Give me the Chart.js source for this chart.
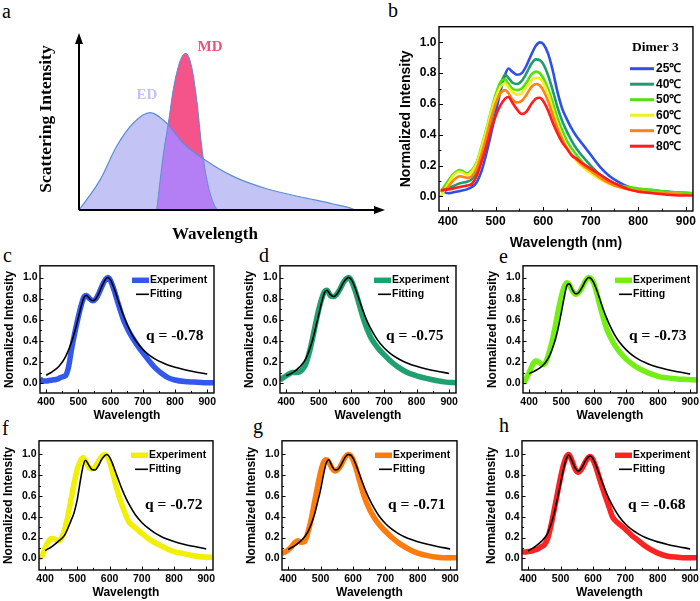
<!DOCTYPE html>
<html>
<head>
<meta charset="utf-8">
<script src="https://cdn.jsdelivr.net/npm/chart.js@4.4.0/dist/chart.umd.min.js"></script>
<style>
  body { margin: 0; width: 700px; height: 601px; position: relative; overflow: hidden; background: #fff; }
  canvas { position: absolute; }
  .tag { position: absolute; font-family: "Liberation Serif", "Times New Roman", serif; font-size: 20px; line-height: 1; color: #000; }
</style>
</head>
<body>
<div class="tag" style="left:2px;top:1px">a</div>
<div class="tag" style="left:388px;top:0px">b</div>
<div class="tag" style="left:3px;top:245px">c</div>
<div class="tag" style="left:259px;top:245px">d</div>
<div class="tag" style="left:499px;top:246px">e</div>
<div class="tag" style="left:2px;top:418px">f</div>
<div class="tag" style="left:253px;top:416px">g</div>
<div class="tag" style="left:499px;top:415px">h</div>
<script>
const SANS = '"Liberation Sans", Arial, sans-serif';
const SERIF = '"Liberation Serif", "Times New Roman", serif';

// ---- panel a : schematic ED / MD lines (arbitrary units)
const edX = [0, 3, 6.9, 12.3, 17.7, 23.2, 28.7, 34.1, 40.6, 50.4, 61.3, 72.2, 83.1, 89.6, 90.2];
const edY = [0, 0.07, 0.17, 0.36, 0.49, 0.55, 0.49, 0.377, 0.29, 0.19, 0.12, 0.075, 0.034, 0.005, 0];
const mdX = [25.4, 27.6, 29.2, 30.8, 33, 34.9, 36.8, 38.5, 40.1, 41.8, 43.9, 45.2];
const mdY = [0, 0.32, 0.49, 0.68, 0.84, 0.885, 0.81, 0.62, 0.36, 0.17, 0.04, 0];

// ---- panel b : Dimer 3 at several temperatures
const bWave = [385, 400, 410, 425, 440, 450, 460, 470, 480, 490, 500, 510, 520, 527, 535, 545, 555, 565, 575, 585, 593, 600, 610, 620, 630, 640, 650, 660, 670, 680, 700, 720, 740, 760, 780, 800, 830, 860, 890, 915];
const b25 = [0.04, 0.02, 0.025, 0.035, 0.045, 0.06, 0.09, 0.16, 0.27, 0.40, 0.54, 0.68, 0.79, 0.83, 0.81, 0.79, 0.80, 0.85, 0.92, 0.98, 1.0, 0.99, 0.93, 0.82, 0.68, 0.57, 0.50, 0.44, 0.39, 0.35, 0.27, 0.19, 0.13, 0.09, 0.06, 0.045, 0.035, 0.03, 0.02, 0.015];
const b40 = [0.04, 0.05, 0.065, 0.085, 0.095, 0.11, 0.16, 0.25, 0.36, 0.48, 0.60, 0.72, 0.79, 0.77, 0.74, 0.73, 0.75, 0.80, 0.86, 0.89, 0.885, 0.86, 0.79, 0.69, 0.58, 0.49, 0.42, 0.36, 0.31, 0.27, 0.20, 0.14, 0.10, 0.07, 0.055, 0.045, 0.04, 0.03, 0.025, 0.02];
const b50 = [0.03, 0.10, 0.14, 0.17, 0.15, 0.17, 0.22, 0.32, 0.43, 0.55, 0.66, 0.74, 0.76, 0.73, 0.70, 0.69, 0.70, 0.74, 0.79, 0.81, 0.80, 0.77, 0.70, 0.61, 0.51, 0.43, 0.36, 0.31, 0.27, 0.23, 0.17, 0.12, 0.09, 0.07, 0.06, 0.05, 0.04, 0.03, 0.025, 0.02];
const b60 = [0.0, 0.08, 0.13, 0.16, 0.14, 0.16, 0.21, 0.31, 0.42, 0.54, 0.64, 0.71, 0.735, 0.71, 0.68, 0.66, 0.67, 0.71, 0.75, 0.77, 0.765, 0.74, 0.67, 0.57, 0.47, 0.39, 0.32, 0.27, 0.23, 0.20, 0.15, 0.11, 0.08, 0.06, 0.045, 0.035, 0.025, 0.02, 0.015, 0.01];
const b70 = [0.03, 0.06, 0.10, 0.13, 0.12, 0.13, 0.18, 0.27, 0.38, 0.50, 0.60, 0.67, 0.69, 0.67, 0.63, 0.61, 0.62, 0.66, 0.71, 0.73, 0.72, 0.69, 0.62, 0.53, 0.44, 0.37, 0.31, 0.27, 0.24, 0.21, 0.165, 0.12, 0.085, 0.06, 0.045, 0.035, 0.025, 0.02, 0.015, 0.01];
const b80 = [0.04, 0.045, 0.05, 0.06, 0.07, 0.08, 0.13, 0.22, 0.32, 0.43, 0.52, 0.59, 0.635, 0.645, 0.61, 0.565, 0.535, 0.55, 0.60, 0.635, 0.64, 0.62, 0.56, 0.48, 0.41, 0.35, 0.31, 0.265, 0.245, 0.22, 0.18, 0.14, 0.10, 0.07, 0.045, 0.03, 0.02, 0.01, 0.005, 0.005];
const bLabels = ['25℃', '40℃', '50℃', '60℃', '70℃', '80℃'];
const bSeries = [b25, b40, b50, b60, b70, b80];
const bColors = ['#2f4fe6', '#1e9c6c', '#52e012', '#f2f01c', '#ff8214', '#ff1c1c'];

// ---- panels c-h : experiment vs Fano fitting
const expWave = [381, 390, 400, 410, 420, 430, 440, 450, 460, 470, 480, 490, 500, 510, 518, 525, 535, 545, 555, 565, 575, 585, 592, 600, 610, 620, 630, 640, 650, 660, 670, 685, 700, 720, 740, 760, 780, 800, 830, 860, 890, 920];
const fitWave = [400, 420, 440, 460, 480, 490, 500, 510, 518, 525, 535, 545, 555, 565, 575, 585, 592, 600, 610, 620, 630, 640, 650, 665, 680, 700, 720, 740, 760, 780, 800, 830, 860, 900];

const cExp = [0.04, 0.02, 0.02, 0.025, 0.03, 0.035, 0.045, 0.06, 0.07, 0.16, 0.34, 0.49, 0.63, 0.75, 0.82, 0.83, 0.80, 0.78, 0.80, 0.86, 0.93, 0.985, 1.0, 0.97, 0.89, 0.79, 0.69, 0.60, 0.53, 0.47, 0.42, 0.35, 0.29, 0.21, 0.14, 0.09, 0.05, 0.03, 0.015, 0.01, 0.005, 0.005];
const cFit = [0.075, 0.11, 0.16, 0.25, 0.40, 0.50, 0.62, 0.74, 0.815, 0.83, 0.80, 0.78, 0.80, 0.86, 0.93, 0.985, 1.0, 0.975, 0.905, 0.815, 0.725, 0.64, 0.565, 0.47, 0.395, 0.32, 0.265, 0.225, 0.195, 0.17, 0.15, 0.127, 0.108, 0.087];
const dExp = [0.03, 0.05, 0.07, 0.09, 0.10, 0.10, 0.105, 0.13, 0.18, 0.28, 0.41, 0.56, 0.70, 0.81, 0.87, 0.88, 0.83, 0.82, 0.84, 0.89, 0.95, 0.99, 1.0, 0.97, 0.89, 0.79, 0.68, 0.58, 0.50, 0.43, 0.38, 0.32, 0.27, 0.21, 0.16, 0.12, 0.09, 0.07, 0.045, 0.025, 0.01, 0.005];
const dFit = [0.07, 0.10, 0.15, 0.23, 0.40, 0.52, 0.65, 0.78, 0.86, 0.88, 0.84, 0.82, 0.84, 0.89, 0.95, 0.99, 1.0, 0.98, 0.915, 0.825, 0.735, 0.65, 0.575, 0.485, 0.41, 0.335, 0.28, 0.238, 0.205, 0.18, 0.16, 0.135, 0.115, 0.092];
const eExp = [0.0, 0.04, 0.10, 0.17, 0.21, 0.20, 0.175, 0.19, 0.27, 0.38, 0.52, 0.68, 0.82, 0.92, 0.95, 0.93, 0.87, 0.84, 0.86, 0.91, 0.97, 1.0, 0.99, 0.95, 0.85, 0.73, 0.62, 0.52, 0.45, 0.39, 0.34, 0.28, 0.23, 0.18, 0.14, 0.11, 0.085, 0.065, 0.05, 0.04, 0.035, 0.03];
const eFit = [0.09, 0.12, 0.16, 0.24, 0.40, 0.52, 0.67, 0.83, 0.93, 0.94, 0.88, 0.845, 0.86, 0.91, 0.97, 1.0, 0.99, 0.955, 0.88, 0.79, 0.70, 0.62, 0.55, 0.46, 0.39, 0.32, 0.265, 0.225, 0.195, 0.17, 0.15, 0.127, 0.108, 0.088];
const fExp = [0.0, 0.02, 0.10, 0.16, 0.19, 0.185, 0.17, 0.19, 0.27, 0.40, 0.56, 0.72, 0.86, 0.94, 0.97, 0.94, 0.88, 0.86, 0.88, 0.93, 0.98, 1.0, 0.98, 0.93, 0.82, 0.70, 0.59, 0.50, 0.42, 0.35, 0.32, 0.28, 0.24, 0.19, 0.15, 0.12, 0.09, 0.065, 0.045, 0.025, 0.012, 0.01];
const fFit = [0.075, 0.11, 0.16, 0.22, 0.36, 0.44, 0.57, 0.76, 0.89, 0.945, 0.90, 0.855, 0.85, 0.89, 0.95, 0.99, 1.0, 0.975, 0.905, 0.82, 0.735, 0.655, 0.585, 0.495, 0.42, 0.345, 0.29, 0.245, 0.21, 0.183, 0.162, 0.136, 0.115, 0.09];
const gExp = [0.05, 0.06, 0.08, 0.11, 0.15, 0.17, 0.155, 0.16, 0.24, 0.36, 0.52, 0.68, 0.83, 0.93, 0.95, 0.93, 0.87, 0.84, 0.86, 0.91, 0.97, 1.0, 0.99, 0.95, 0.86, 0.75, 0.64, 0.55, 0.48, 0.42, 0.37, 0.31, 0.26, 0.20, 0.15, 0.11, 0.075, 0.05, 0.025, 0.01, 0.005, 0.005];
const gFit = [0.085, 0.12, 0.17, 0.25, 0.41, 0.53, 0.66, 0.82, 0.92, 0.95, 0.89, 0.85, 0.86, 0.91, 0.97, 1.0, 0.995, 0.965, 0.895, 0.81, 0.725, 0.645, 0.575, 0.485, 0.41, 0.335, 0.28, 0.238, 0.205, 0.18, 0.16, 0.135, 0.114, 0.09];
const hExp = [0.06, 0.06, 0.065, 0.07, 0.08, 0.09, 0.11, 0.13, 0.19, 0.31, 0.46, 0.62, 0.78, 0.91, 0.98, 1.0, 0.94, 0.86, 0.83, 0.86, 0.92, 0.97, 0.98, 0.95, 0.87, 0.77, 0.67, 0.58, 0.49, 0.40, 0.36, 0.32, 0.28, 0.22, 0.17, 0.12, 0.08, 0.05, 0.02, 0.01, 0.005, 0.005];
const hFit = [0.07, 0.11, 0.16, 0.24, 0.43, 0.57, 0.72, 0.87, 0.96, 0.995, 0.94, 0.87, 0.84, 0.87, 0.93, 0.975, 0.985, 0.96, 0.89, 0.805, 0.72, 0.64, 0.57, 0.48, 0.405, 0.33, 0.275, 0.235, 0.203, 0.178, 0.158, 0.133, 0.113, 0.09];
const qLabels = ['q = -0.78', 'q = -0.75', 'q = -0.73', 'q = -0.72', 'q = -0.71', 'q = -0.68'];

const xTicks = [400, 500, 600, 700, 800, 900];
const yTicks = [0, 0.2, 0.4, 0.6, 0.8, 1.0];

function pairs(xs, ys) {
  return xs.map((x, i) => ({x: x, y: ys[i]}));
}

function addCanvas(left, top, w, h) {
  const c = document.createElement('canvas');
  c.width = w; c.height = h;
  c.style.left = left + 'px'; c.style.top = top + 'px';
  c.style.width = w + 'px'; c.style.height = h + 'px';
  document.body.appendChild(c);
  return c;
}

// box round the plot with inward ticks, like Origin
function frame(chart, len) {
  const {ctx, chartArea: a, scales: {x, y}} = chart;
  ctx.save();
  ctx.strokeStyle = '#000';
  ctx.lineWidth = 1.4;
  ctx.strokeRect(a.left, a.top, a.right - a.left, a.bottom - a.top);
  ctx.lineWidth = 1;
  ctx.beginPath();
  xTicks.forEach((v, i) => {
    let px = Math.round(x.getPixelForValue(v)) + 0.5;
    ctx.moveTo(px, a.bottom); ctx.lineTo(px, a.bottom - len);
    if (i < xTicks.length - 1) {
      px = Math.round(x.getPixelForValue((v + xTicks[i + 1]) / 2)) + 0.5;
      ctx.moveTo(px, a.bottom); ctx.lineTo(px, a.bottom - len * 0.6);
    }
  });
  yTicks.forEach((v, i) => {
    let py = Math.round(y.getPixelForValue(v)) + 0.5;
    ctx.moveTo(a.left, py); ctx.lineTo(a.left + len, py);
    if (i < yTicks.length - 1) {
      py = Math.round(y.getPixelForValue((v + yTicks[i + 1]) / 2)) + 0.5;
      ctx.moveTo(a.left, py); ctx.lineTo(a.left + len * 0.6, py);
    }
  });
  ctx.stroke();
  ctx.restore();
}

function axisX(min, max, h, tickSize, text, titleSize) {
  return {
    type: 'linear', min: min, max: max,
    afterBuildTicks: s => { s.ticks = xTicks.map(v => ({value: v})); },
    afterFit: s => { s.height = h; },
    grid: {display: false, drawTicks: false}, border: {display: false},
    ticks: {padding: 3, color: '#000', autoSkip: false, maxRotation: 0,
      font: {family: SANS, size: tickSize, weight: 'bold'}, callback: v => String(v)},
    title: {display: true, text: text, color: '#000', padding: {top: 0, bottom: 0},
      font: {family: SANS, size: titleSize, weight: 'bold'}}
  };
}

function axisY(min, max, w, tickSize, titleSize, titlePad) {
  return {
    type: 'linear', min: min, max: max,
    afterBuildTicks: s => { s.ticks = yTicks.map(v => ({value: v})); },
    afterFit: s => { s.width = w; },
    grid: {display: false, drawTicks: false}, border: {display: false},
    ticks: {padding: 2.5, color: '#000', autoSkip: false,
      font: {family: SANS, size: tickSize, weight: 'bold'}, callback: v => v.toFixed(1)},
    title: {display: true, text: 'Normalized Intensity', color: '#000', padding: {top: titlePad, bottom: 0},
      font: {family: SANS, size: titleSize, weight: 'bold'}}
  };
}

// ---------- panel a
(function () {
  const cv = addCanvas(0, 0, 400, 250);
  const deco = {
    id: 'decoA',
    afterDraw(chart) {
      const {ctx, chartArea: a} = chart;
      ctx.save();
      ctx.strokeStyle = '#000'; ctx.fillStyle = '#000'; ctx.lineWidth = 2;
      ctx.beginPath();
      ctx.moveTo(a.left, a.bottom); ctx.lineTo(a.left, a.top + 8);
      ctx.moveTo(a.left, a.bottom); ctx.lineTo(a.right - 8, a.bottom);
      ctx.stroke();
      ctx.beginPath();
      ctx.moveTo(a.left, a.top); ctx.lineTo(a.left - 4, a.top + 11); ctx.lineTo(a.left + 4, a.top + 11);
      ctx.closePath(); ctx.fill();
      ctx.beginPath();
      ctx.moveTo(a.right, a.bottom); ctx.lineTo(a.right - 11, a.bottom - 4); ctx.lineTo(a.right - 11, a.bottom + 4);
      ctx.closePath(); ctx.fill();
      ctx.textAlign = 'center'; ctx.textBaseline = 'middle';
      ctx.font = 'bold 17px ' + SERIF;
      ctx.fillText('Wavelength', a.left + 136, a.bottom + 25);
      ctx.translate(a.left - 33, 119);
      ctx.rotate(-Math.PI / 2);
      ctx.font = 'bold 17.5px ' + SERIF;
      ctx.fillText('Scattering Intensity', 0, 0);
      ctx.restore();
      ctx.save();
      ctx.textAlign = 'center'; ctx.textBaseline = 'middle';
      ctx.font = 'bold 15px ' + SERIF;
      ctx.fillStyle = '#c4c4f2';
      ctx.fillText('ED', a.left + 68, a.top + 62);
      ctx.fillStyle = '#f2507c';
      ctx.fillText('MD', a.left + 131, a.top + 14);
      ctx.restore();
    }
  };
  new Chart(cv, {
    type: 'line',
    data: {datasets: [
      {data: pairs(edX, edY), borderColor: '#5d8ed4', borderWidth: 1.2, fill: false},
      {data: pairs(mdX, mdY), borderColor: '#5d8ed4', borderWidth: 1,
        fill: {target: 3, above: '#f4548a', below: 'rgba(0,0,0,0)'}},
      {data: pairs(mdX, mdY), borderWidth: 0, borderColor: 'rgba(0,0,0,0)', fill: {target: 'origin', above: '#b47ef4'}},
      {data: pairs(edX, edY), borderWidth: 0, borderColor: 'rgba(0,0,0,0)', fill: {target: 'origin', above: '#c3c3f5'}}
    ]},
    options: {
      responsive: false, animation: false, events: [],
      layout: {padding: {left: 79, right: 15, top: 33, bottom: 40}},
      elements: {point: {radius: 0}, line: {cubicInterpolationMode: 'monotone'}},
      plugins: {legend: {display: false}, tooltip: {enabled: false}},
      scales: {
        x: {type: 'linear', min: 0, max: 100, display: false},
        y: {type: 'linear', min: 0, max: 1, display: false}
      }
    },
    plugins: [deco]
  });
})();

// ---------- panel b
(function () {
  const L = 439, T = 23, R = 693, B = 211;
  const padL = 46, padT = 6, padR = 6, padB = 41;
  const cv = addCanvas(L - padL, T - padT, R - L + padL + padR, B - T + padT + padB);
  const sets = bSeries.map((s, i) => ({data: pairs(bWave, s), borderColor: bColors[i], borderWidth: 2.6})).reverse();
  const deco = {
    id: 'decoB',
    afterDraw(chart) {
      frame(chart, 4);
      const {ctx, chartArea: a} = chart;
      ctx.save();
      ctx.textBaseline = 'middle'; ctx.textAlign = 'left'; ctx.fillStyle = '#000';
      ctx.font = 'bold 13.5px ' + SERIF;
      ctx.fillText('Dimer 3', a.right - 61, a.top + 21);
      ctx.font = 'bold 12px ' + SANS;
      bLabels.forEach((t, i) => {
        const yy = a.top + 42 + i * 15.5;
        ctx.strokeStyle = bColors[i]; ctx.lineWidth = 3;
        ctx.beginPath(); ctx.moveTo(a.right - 63, yy); ctx.lineTo(a.right - 39, yy); ctx.stroke();
        ctx.fillText(t, a.right - 37, yy);
      });
      ctx.restore();
    }
  };
  new Chart(cv, {
    type: 'line',
    data: {datasets: sets},
    options: {
      responsive: false, animation: false, events: [],
      layout: {padding: {left: 0, top: padT, right: padR, bottom: 0}},
      elements: {point: {radius: 0}, line: {cubicInterpolationMode: 'monotone', fill: false}},
      plugins: {legend: {display: false}, tooltip: {enabled: false}},
      scales: {
        x: axisX(381, 915, padB, 12, 'Wavelength (nm)', 14),
        y: axisY(-0.0955, 1.102, padL, 12, 14, 4.4)
      }
    },
    plugins: [deco]
  });
})();

// ---------- panels c-h
const smallPanels = [
  {rect: [40, 263, 214, 393], y: [-0.093, 1.111], exp: cExp, fit: cFit, color: '#3358ec', q: qLabels[0], qTop: 70},
  {rect: [280, 263, 456, 393], y: [-0.093, 1.111], exp: dExp, fit: dFit, color: '#1fa070', q: qLabels[1], qTop: 70},
  {rect: [523, 263, 697, 393], y: [-0.093, 1.111], exp: eExp, fit: eFit, color: '#74ef14', q: qLabels[2], qTop: 70},
  {rect: [39, 438, 213, 570], y: [-0.113, 1.132], exp: fExp, fit: fFit, color: '#f2f000', q: qLabels[3], qTop: 64},
  {rect: [282, 438, 457, 570], y: [-0.113, 1.132], exp: gExp, fit: gFit, color: '#ff7c0c', q: qLabels[4], qTop: 64},
  {rect: [522, 438, 697, 570], y: [-0.113, 1.132], exp: hExp, fit: hFit, color: '#ff2222', q: qLabels[5], qTop: 64}
];

smallPanels.forEach((p, n) => {
  const [L, T, R, B] = p.rect;
  const padL = 42, padT = 6, padR = 6, padB = 30;
  const cv = addCanvas(L - padL, T - padT, R - L + padL + padR, B - T + padT + padB);
  const deco = {
    id: 'deco' + n,
    afterDraw(chart) {
      frame(chart, 3.5);
      const {ctx, chartArea: a} = chart;
      ctx.save();
      ctx.lineCap = 'butt';
      ctx.strokeStyle = p.color; ctx.lineWidth = 5.5;
      ctx.beginPath(); ctx.moveTo(a.right - 82, a.top + 14.5); ctx.lineTo(a.right - 65, a.top + 14.5); ctx.stroke();
      ctx.strokeStyle = '#000'; ctx.lineWidth = 1.6;
      ctx.beginPath(); ctx.moveTo(a.right - 78, a.top + 28.5); ctx.lineTo(a.right - 65, a.top + 28.5); ctx.stroke();
      ctx.fillStyle = '#000'; ctx.textBaseline = 'middle'; ctx.textAlign = 'left';
      ctx.font = 'bold 10.5px ' + SANS;
      ctx.fillText('Experiment', a.right - 64, a.top + 14.5);
      ctx.fillText('Fitting', a.right - 64, a.top + 28.5);
      ctx.font = 'bold 15.5px ' + SERIF;
      ctx.fillText(p.q, a.left + 106, a.top + p.qTop);
      ctx.restore();
    }
  };
  new Chart(cv, {
    type: 'line',
    data: {datasets: [
      {data: pairs(fitWave, p.fit), borderColor: '#000', borderWidth: 1.6},
      {data: pairs(expWave, p.exp), borderColor: p.color, borderWidth: 5.5}
    ]},
    options: {
      responsive: false, animation: false, events: [],
      layout: {padding: {left: 0, top: padT, right: padR, bottom: 0}},
      elements: {point: {radius: 0}, line: {cubicInterpolationMode: 'monotone', fill: false}},
      plugins: {legend: {display: false}, tooltip: {enabled: false}},
      scales: {
        x: axisX(381, 921, padB, 10.5, 'Wavelength', 12),
        y: axisY(p.y[0], p.y[1], padL, 10.5, 12, 4.8)
      }
    },
    plugins: [deco]
  });
});
</script>
</body>
</html>
